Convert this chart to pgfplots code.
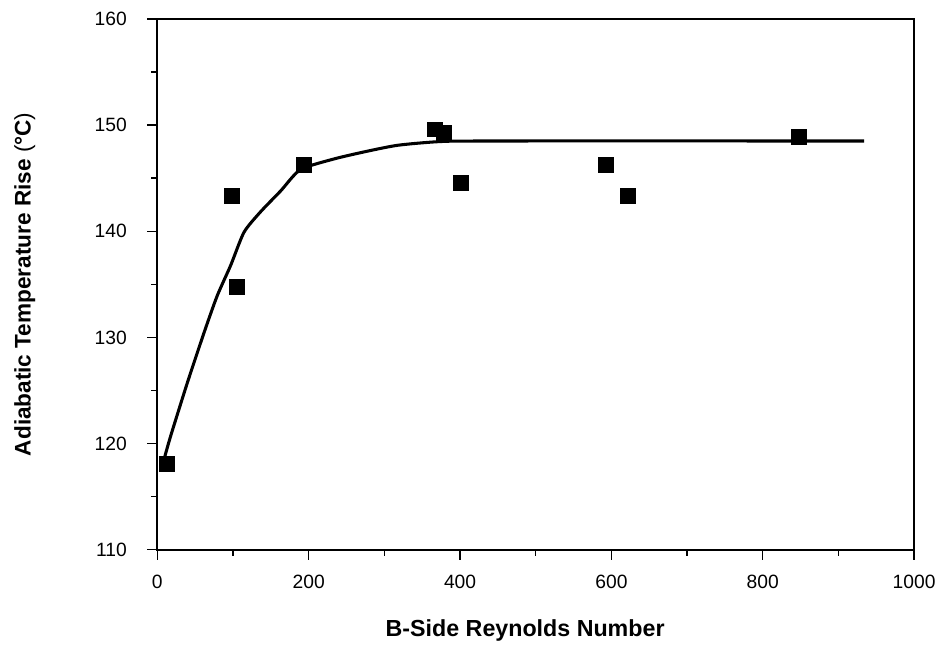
\documentclass[border=0pt]{standalone}
\usepackage{fontspec}
\setmainfont{Liberation Sans}
\usepackage{pgfplots}
\pgfplotsset{compat=1.18}
\begin{document}
\begin{tikzpicture}
\begin{axis}[
  scale only axis,
  width=570pt, height=399.75pt,
  xmin=0, xmax=1000, ymin=110, ymax=160,
  xtick={0,200,...,1000}, ytick={110,120,...,160},
  minor xtick={100,300,...,900}, minor ytick={115,125,...,155},
  tick align=outside, tick pos=left,
  major tick length=7.5pt, minor tick length=4.5pt,
  every tick/.style={black, line width=1pt},
  axis line style={line width=1.3pt},
  /pgf/number format/assume math mode=true,
  /pgf/number format/1000 sep={},
  ticklabel style={font=\fontsize{14.5pt}{16pt}\selectfont},
  xticklabel style={yshift=-8pt},
  yticklabel style={xshift=-12pt},
  xlabel={\textbf{B-Side Reynolds Number}},
  ylabel={\textbf{Adiabatic Temperature Rise} (\textbf{°C})},
  every axis x label/.style={at={(axis description cs:0.486,0)}, anchor=center, yshift=-60.75pt, font=\fontsize{17.5pt}{20pt}\selectfont},
  every axis y label/.style={at={(axis description cs:0,0.5)}, anchor=center, rotate=90, yshift=99.75pt, font=\fontsize{17pt}{20pt}\selectfont},
  clip=false,
]
\addplot[black, line width=2.3pt, smooth, tension=0.4, mark=none] coordinates {
(9.2,118.6) (18,120.8) (40,125.8) (62,130.5) (79,133.9) (97,136.8) (114.5,139.9) (136,141.8) (163,143.8) (189,145.8) (233,146.8) (275,147.5) (318,148.1) (375,148.45) (450,148.5) (934,148.5)
};
\addplot[only marks, mark=square*, mark size=5.6pt, black] coordinates {
(13,118.1) (98,143.3) (105,134.8) (193,146.3) (367,149.6) (379,149.3) (401,144.6) (592,146.3) (622,143.3) (847,148.9)
};
\end{axis}
\path (current axis.south west) ++(-118.5pt,-68.25pt) coordinate (bbA);
\path (current axis.north east) ++(16.5pt,14.25pt) coordinate (bbB);
\useasboundingbox (bbA) rectangle (bbB);
\end{tikzpicture}
\end{document}
